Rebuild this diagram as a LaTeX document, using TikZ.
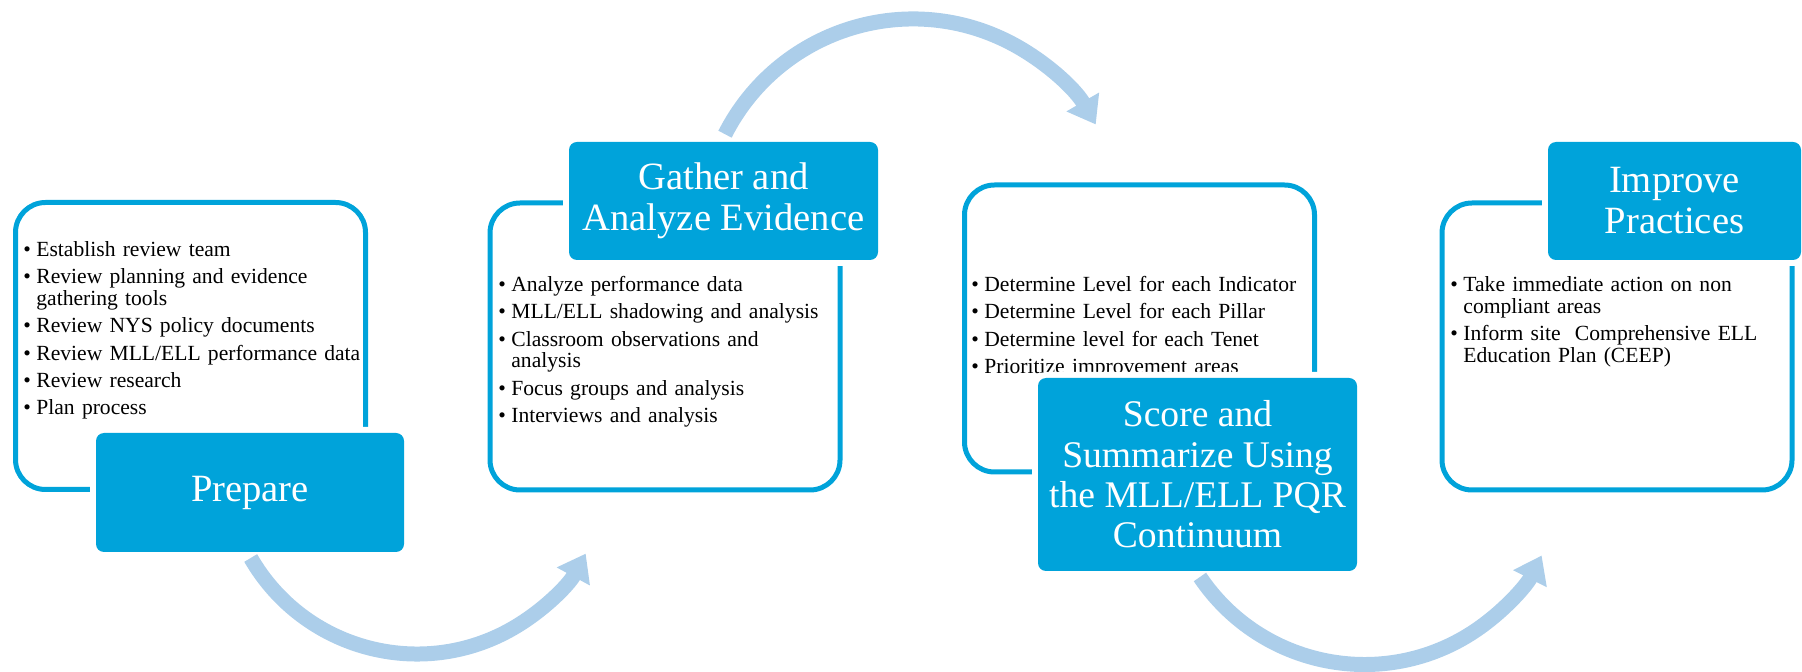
\documentclass[tikz,border=0pt]{standalone}
\usepackage{fontspec}
\setmainfont{Liberation Serif}
\usetikzlibrary{arrows.meta}
\definecolor{stageblue}{RGB}{0,163,218}
\definecolor{loopblue}{RGB}{172,206,234}
\tikzset{
  stage-frame/.style={
    draw=stageblue,
    line width=2.5pt,
    rounded corners=15pt,
    inner sep=0pt
  },
  stage-head/.style={
    fill=stageblue,
    rounded corners=4pt,
    preaction={draw=white, line width=6pt},
    text=white,
    align=center,
    inner sep=0pt,
    font=\fontsize{19.3}{20.5}\selectfont
  },
  stage-list/.style={
    anchor=north west,
    inner sep=0pt,
    text width=172pt,
    align=left,
    font=\fontsize{10.8}{10.85}\selectfont,
    execute at begin node=\setlength{\parskip}{2.8pt}
  },
  loop-arrow/.style={
    draw=loopblue,
    line width=7.5pt,
    -{Triangle[length=13pt, width=18pt]}
  }
}
\newcommand{\stageitem}[1]{\par\noindent\hangindent=6.5pt\hangafter=1\makebox[6.5pt][l]{\textbullet}#1}

\begin{document}
\begin{tikzpicture}[x=0.5pt, y=-0.5pt]
  \useasboundingbox (0,0) rectangle (1802,672);

  % --- The Frames ---
  \node[stage-frame, minimum width=175pt, minimum height=143.5pt] (prep frame) at (190.5,346) {};
  \node[stage-frame, minimum width=175pt, minimum height=143.5pt] (gather frame) at (665,346.5) {};
  \node[stage-frame, minimum width=175pt, minimum height=143.5pt] (score frame) at (1139.5,328.5) {};
  \node[stage-frame, minimum width=175pt, minimum height=143.5pt] (improve frame) at (1617,346.5) {};

  % --- The Lists ---
  \node[stage-list] (prep list) at (23,229) {%
    \stageitem{Establish review team}
    \stageitem{Review planning and evidence\newline gathering tools}
    \stageitem{Review NYS policy documents}
    \stageitem{Review MLL/ELL performance data}
    \stageitem{Review research}
    \stageitem{Plan process}\par};
  \node[stage-list] (gather list) at (498,264) {%
    \stageitem{Analyze performance data}
    \stageitem{MLL/ELL shadowing and analysis}
    \stageitem{Classroom observations and\newline analysis}
    \stageitem{Focus groups and analysis}
    \stageitem{Interviews and analysis}\par};
  \node[stage-list] (score list) at (971,264) {%
    \stageitem{Determine Level for each Indicator}
    \stageitem{Determine Level for each Pillar}
    \stageitem{Determine level for each Tenet}
    \stageitem{Prioritize improvement areas}\par};
  \node[stage-list] (improve list) at (1450,264) {%
    \stageitem{Take immediate action on non\newline compliant areas}
    \stageitem{Inform site~ Comprehensive ELL\newline Education Plan (CEEP)}\par};

  % --- The Heads ---
  \node[stage-head, minimum width=154pt, minimum height=59.5pt] (prep head) at (250,492.5) {Prepare};
  \node[stage-head, minimum width=154.5pt, minimum height=59pt] (gather head) at (723.5,201) {Gather and\\Analyze Evidence};
  \node[stage-head, minimum width=159.5pt, minimum height=96.5pt, font=\fontsize{18.8}{20.2}\selectfont] (score head) at (1197.5,474.5) {Score and\\Summarize Using\\the MLL/ELL PQR\\Continuum};
  \node[stage-head, minimum width=126.5pt, minimum height=59pt] (improve head) at (1674.5,201) {Improve\\Practices};

  % --- The Loops ---
  \coordinate (loop one) at (250.7,558);
  \coordinate (loop two) at (725,134.2);
  \coordinate (loop three) at (1199.9,577);
  \draw[loop-arrow] (loop one) arc[start angle=150, end angle=28.5, radius=192];
  \draw[loop-arrow] (loop two) arc[start angle=207, end angle=330, radius=211];
  \draw[loop-arrow] (loop three) arc[start angle=146, end angle=26.8, radius=198.5];
\end{tikzpicture}
\end{document}
